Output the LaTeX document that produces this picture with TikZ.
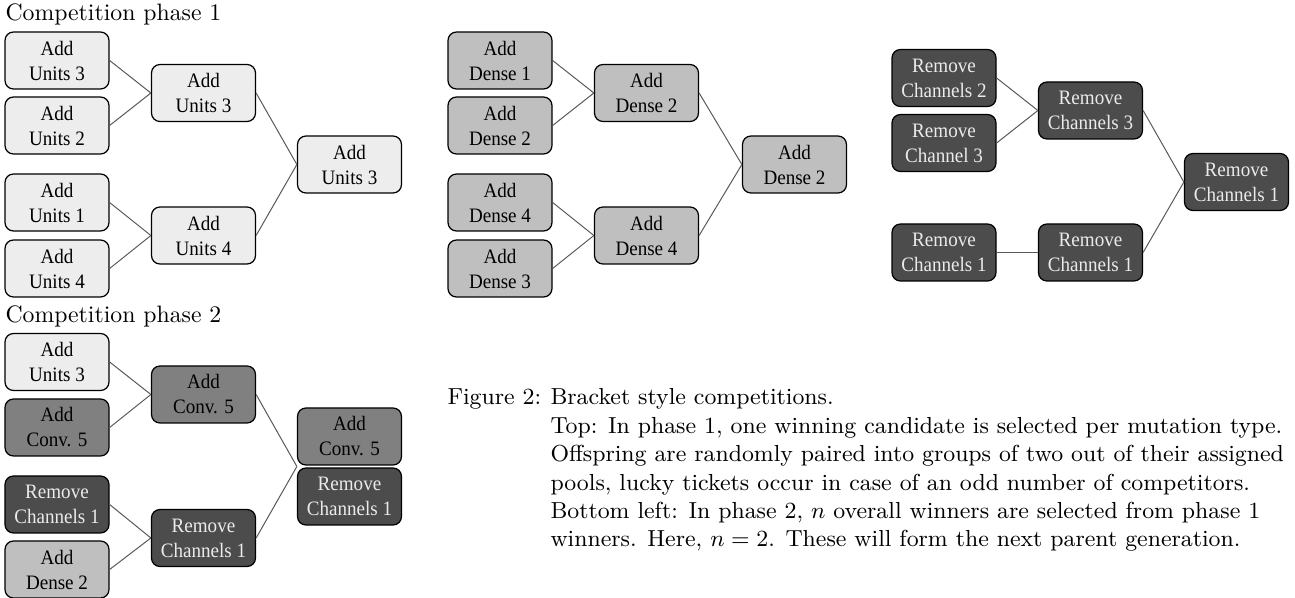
\documentclass[tikz,border=0pt]{standalone}
\usepackage{fix-cm}
\usepackage{graphicx}
\usepackage{fontspec}
\newfontfamily\nodefont{Liberation Serif}
\usetikzlibrary{calc}
\definecolor{clight}{gray}{0.93}
\definecolor{cdense}{gray}{0.75}
\definecolor{cconv}{gray}{0.5}
\definecolor{cremove}{gray}{0.30}
\newcommand\twol[2]{\scalebox{0.93}[1]{#1}\\\scalebox{0.93}[1]{#2}}
\tikzset{
  box/.style={draw=black, line width=0.5pt, rounded corners=3.4pt,
    minimum width=41.6pt, minimum height=22.8pt, inner sep=0pt, align=center,
    font=\nodefont\fontsize{8.2}{10}\selectfont},
  lightbox/.style={box, fill=clight},
  densebox/.style={box, fill=cdense},
  convbox/.style={box, fill=cconv},
  removebox/.style={box, fill=cremove, text=black!8},
  link/.style={draw=black!65, line width=0.4pt},
  ttl/.style={anchor=base west, inner sep=0pt, font=\fontsize{9.5}{11.5}\selectfont},
  captext/.style={anchor=base west, inner sep=0pt, font=\fontsize{9.27}{11.2}\selectfont}
}
\begin{document}
\begin{tikzpicture}[x=0.4pt, y=-0.4pt]
\useasboundingbox (0,0) rectangle (1295,598);

% ---------- Phase 1 title
\node[ttl] (t1) at (5,21) {Competition phase 1};

% ---------- Phase 1 left: Units
\node[lightbox] (u1) at (57,60.5) {\twol{Add}{Units 3}};
\node[lightbox] (u2) at (57,125.5) {\twol{Add}{Units 2}};
\node[lightbox] (u3) at (57,202.5) {\twol{Add}{Units 1}};
\node[lightbox] (u4) at (57,268.5) {\twol{Add}{Units 4}};
\node[lightbox] (um1) at (203.5,93) {\twol{Add}{Units 3}};
\node[lightbox] (um2) at (203.5,235.5) {\twol{Add}{Units 4}};
\node[lightbox] (uf) at (349.5,164.5) {\twol{Add}{Units 3}};
\draw[link] (u1.east) -- (um1.west);
\draw[link] (u2.east) -- (um1.west);
\draw[link] (u3.east) -- (um2.west);
\draw[link] (u4.east) -- (um2.west);
\draw[link] (um1.east) -- (uf.west);
\draw[link] (um2.east) -- (uf.west);

% ---------- Phase 1 middle: Dense
\node[densebox] (d1) at (500,60.5) {\twol{Add}{Dense 1}};
\node[densebox] (d2) at (500,125.5) {\twol{Add}{Dense 2}};
\node[densebox] (d3) at (500,202.5) {\twol{Add}{Dense 4}};
\node[densebox] (d4) at (500,268.5) {\twol{Add}{Dense 3}};
\node[densebox] (dm1) at (646.5,93) {\twol{Add}{Dense 2}};
\node[densebox] (dm2) at (646.5,235.5) {\twol{Add}{Dense 4}};
\node[densebox] (df) at (794.5,164.5) {\twol{Add}{Dense 2}};
\draw[link] (d1.east) -- (dm1.west);
\draw[link] (d2.east) -- (dm1.west);
\draw[link] (d3.east) -- (dm2.west);
\draw[link] (d4.east) -- (dm2.west);
\draw[link] (dm1.east) -- (df.west);
\draw[link] (dm2.east) -- (df.west);

% ---------- Phase 1 right: Remove
\node[removebox] (r1) at (944,78) {\twol{Remove}{Channels 2}};
\node[removebox] (r2) at (944,143) {\twol{Remove}{Channel 3}};
\node[removebox] (r3) at (944,252.5) {\twol{Remove}{Channels 1}};
\node[removebox] (rm1) at (1090.5,110.5) {\twol{Remove}{Channels 3}};
\node[removebox] (rm2) at (1090.5,252.5) {\twol{Remove}{Channels 1}};
\node[removebox] (rf) at (1236.5,182) {\twol{Remove}{Channels 1}};
\draw[link] (r1.east) -- (rm1.west);
\draw[link] (r2.east) -- (rm1.west);
\draw[link] (r3.east) -- (rm2.west);
\draw[link] (rm1.east) -- (rf.west);
\draw[link] (rm2.east) -- (rf.west);

% ---------- Phase 2
\node[ttl] (t2) at (5,323) {Competition phase 2};
\node[lightbox] (p1) at (57,362) {\twol{Add}{Units 3}};
\node[convbox] (p2) at (57,427.5) {\twol{Add}{Conv. 5}};
\node[removebox] (p3) at (57,504.5) {\twol{Remove}{Channels 1}};
\node[densebox] (p4) at (57,569.5) {\twol{Add}{Dense 2}};
\node[convbox] (pm1) at (203.5,394.5) {\twol{Add}{Conv. 5}};
\node[removebox] (pm2) at (203.5,538) {\twol{Remove}{Channels 1}};
\node[convbox] (pf1) at (349.5,436.5) {\twol{Add}{Conv. 5}};
\node[removebox] (pf2) at (349.5,496.5) {\twol{Remove}{Channels 1}};
\coordinate (pj) at ($(pf1.south west)!0.5!(pf2.north west)$);
\draw[link] (p1.east) -- (pm1.west);
\draw[link] (p2.east) -- (pm1.west);
\draw[link] (p3.east) -- (pm2.west);
\draw[link] (p4.east) -- (pm2.west);
\draw[link] (pm1.east) -- (pj);
\draw[link] (pm2.east) -- (pj);

% ---------- Caption
\node[captext] (c0) at (447,405) {Figure 2:};
\node[captext] (c1) at (550,405) {Bracket style competitions.};
\node[captext] (c2) at (550,433.4) {Top: In phase 1, one winning candidate is selected per mutation type.};
\node[captext] (c3) at (550,461.8) {Offspring are randomly paired into groups of two out of their assigned};
\node[captext] (c4) at (550,490.2) {pools, lucky tickets occur in case of an odd number of competitors.};
\node[captext] (c5) at (550,518.6) {Bottom left: In phase 2, $n$ overall winners are selected from phase 1};
\node[captext] (c6) at (550,547) {winners. Here, $n=2$. These will form the next parent generation.};
\end{tikzpicture}
\end{document}
